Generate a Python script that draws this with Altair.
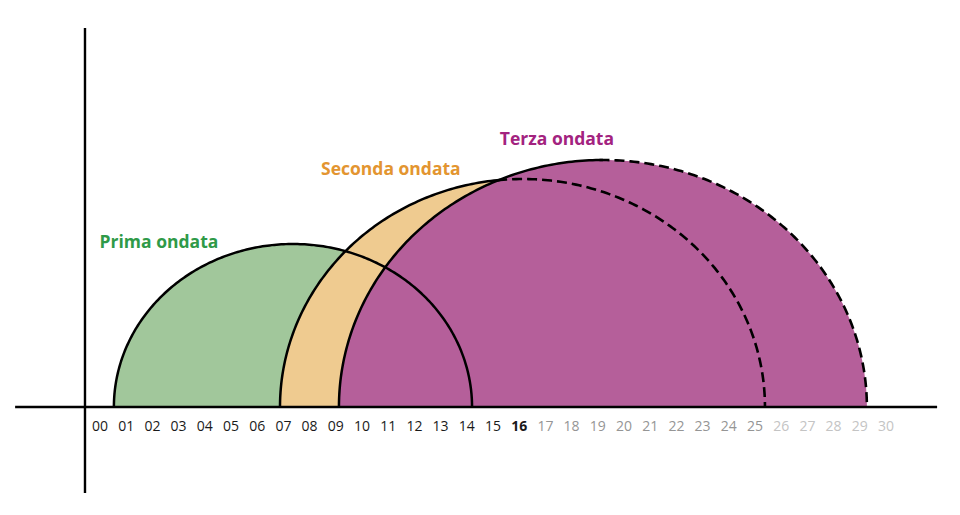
import altair as alt
import numpy as np
import pandas as pd

# ---- data ----
waves = ["Prima ondata", "Seconda ondata", "Terza ondata"]
wave_start = [0.53, 6.87, 9.12]     # x where each wave begins
wave_end = [14.2, 25.38, 29.27]     # x where each wave ends
wave_peak = [16.3, 22.8, 24.7]      # height of each wave
dash_from = [None, 15.3, 19.2]      # x after which the arc is drawn dashed (projection)

day_labels = ["00", "01", "02", "03", "04", "05", "06", "07", "08", "09", "10",
              "11", "12", "13", "14", "15", "16", "17", "18", "19", "20",
              "21", "22", "23", "24", "25", "26", "27", "28", "29", "30"]

fill_colors = ["#a1c79b", "#efcb90", "#b55f9a"]
text_colors = ["#2f9a48", "#e39530", "#a3237f"]
label_x = [2.25, 11.1, 17.44]
label_y = [15.9, 23.2, 26.2]

# ---- build half-ellipse outlines from the wave parameters ----
theta = np.linspace(np.pi, 0, 241)
rows = []
for w, s, e, p in zip(waves, wave_start, wave_end, wave_peak):
    c = (s + e) / 2
    a = (e - s) / 2
    xv = c + a * np.cos(theta)
    yv = p * np.sin(theta)
    for i in range(len(theta)):
        rows.append({"wave": w, "i": i, "x": float(xv[i]), "y": float(yv[i]), "y0": 0.0})
arc = pd.DataFrame(rows)

solid_rows, dash_rows = [], []
for w, d in zip(waves, dash_from):
    sub = arc[arc.wave == w]
    for r in sub.to_dict("records"):
        if d is None or r["x"] <= d:
            solid_rows.append(r)
        if d is not None and r["x"] >= d - 0.25:
            dash_rows.append(r)
solid = pd.DataFrame(solid_rows)
dashed = pd.DataFrame(dash_rows)

X_DOM = [-3.5115, 32.519]
Y_DOM = [-10, 39.9]
xs = alt.Scale(domain=X_DOM, nice=False, zero=False)
ys = alt.Scale(domain=Y_DOM, nice=False, zero=False)
X = alt.X("x:Q", scale=xs, axis=None)
Y = alt.Y("y:Q", scale=ys, axis=None)

layers = []
for w, col in zip(waves, fill_colors):
    layers.append(
        alt.Chart(arc[arc.wave == w]).mark_area(fill=col, color=col, opacity=1,
                                                 interpolate="linear").encode(
            x=X, y=Y, y2=alt.Y2("y0:Q")
        )
    )

layers.append(
    alt.Chart(solid).mark_line(color="black", strokeWidth=2.5).encode(
        x=X, y=Y, detail="wave:N", order="i:Q")
)
layers.append(
    alt.Chart(dashed).mark_line(color="black", strokeWidth=2.6, strokeDash=[10, 5]).encode(
        x=X, y=Y, detail="wave:N", order="i:Q")
)

# axis lines
axes_df = pd.DataFrame({"x": [-3.24, -0.573], "x2": [31.95, -0.573],
                        "y": [0.0, 37.9], "y2": [0.0, -8.6]})
layers.append(
    alt.Chart(axes_df).mark_rule(color="black", strokeWidth=2.4).encode(
        x=X, x2="x2:Q", y=Y, y2="y2:Q")
)

# day labels
days = pd.DataFrame({"lab": day_labels})
days["x"] = days.lab.astype(int).astype(float)
days["y"] = -2.0
days["tone"] = np.where(days.x <= 16, "past", np.where(days.x <= 25, "near", "far"))

layers.append(
    alt.Chart(days[days.x != 16]).mark_text(
        font="Open Sans", fontSize=14, baseline="middle", align="center").encode(
        x=X, y=Y, text="lab:N",
        color=alt.Color("tone:N", scale=alt.Scale(domain=["past", "near", "far"],
                                                  range=["#1a1a1a", "#959595", "#c4c4c4"]),
                        legend=None),
    )
)
layers.append(
    alt.Chart(days[days.x == 16]).mark_text(
        font="Open Sans", fontSize=14, baseline="middle", align="center",
        fontWeight="bold", color="#1a1a1a").encode(x=X, y=Y, text="lab:N")
)

# wave labels
lab = pd.DataFrame({"wave": waves, "x": label_x, "y": label_y})
for w, c in zip(waves, text_colors):
    layers.append(
        alt.Chart(lab[lab.wave == w]).mark_text(font="Open Sans", fontSize=17.5, fontWeight="bold",
                                                 color=c, align="center", baseline="alphabetic").encode(
            x=X, y=Y, text="wave:N")
    )

chart = alt.layer(*layers).properties(
    width=944, height=499, padding=0, autosize="none", background="white"
).configure_view(stroke=None)

chart.save("out.html", embed_options={"renderer": "svg", "actions": False})
